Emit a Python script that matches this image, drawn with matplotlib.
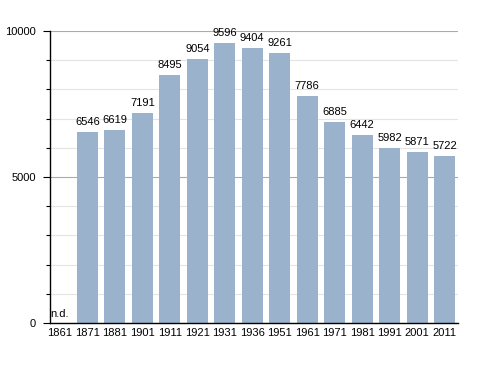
import matplotlib
matplotlib.use("Agg")
import matplotlib.pyplot as plt
from matplotlib.ticker import MultipleLocator

years = ["1861", "1871", "1881", "1901", "1911", "1921", "1931", "1936",
         "1951", "1961", "1971", "1981", "1991", "2001", "2011"]
population = [None, 6546, 6619, 7191, 8495, 9054, 9596, 9404,
              9261, 7786, 6885, 6442, 5982, 5871, 5722]
missing_label = "n.d."

plt.rcParams['font.family'] = ['Liberation Sans', 'DejaVu Sans']
FS = 8

fig = plt.figure(figsize=(4.88, 3.73), dpi=100)
ax = fig.add_axes([50/488, 50/373, 408/488, 292/373])

ax.set_ylim(0, 10000)
ax.set_xlim(-0.36, 14.49)

ax.yaxis.set_major_locator(MultipleLocator(5000))
ax.yaxis.set_minor_locator(MultipleLocator(1000))
ax.grid(which='minor', axis='y', color='#e4e4e4', linewidth=0.8, zorder=0)
ax.grid(which='major', axis='y', color='#aaaaaa', linewidth=0.8, zorder=0)
ax.set_axisbelow(True)

xs = list(range(len(years)))
for x, v in zip(xs, population):
    if v is None:
        ax.text(x, 150, missing_label, ha='center', va='bottom', fontsize=FS)
        continue
    ax.bar(x, v, width=0.76, color='#9ab2cc', zorder=2)
    ax.text(x, v + 170, str(v), ha='center', va='bottom', fontsize=FS)

ax.set_xticks(xs)
ax.set_xticklabels(years)
ax.tick_params(axis='x', length=0, pad=3.5, labelsize=FS)
ax.tick_params(axis='y', which='major', length=5, width=0.8, pad=5, labelsize=FS)
ax.tick_params(axis='y', which='minor', length=3, width=0.8)

for s in ['top', 'right']:
    ax.spines[s].set_visible(False)
for s in ['left', 'bottom']:
    ax.spines[s].set_linewidth(1.0)
    ax.spines[s].set_color('black')

fig.savefig("out.png", dpi=100)
